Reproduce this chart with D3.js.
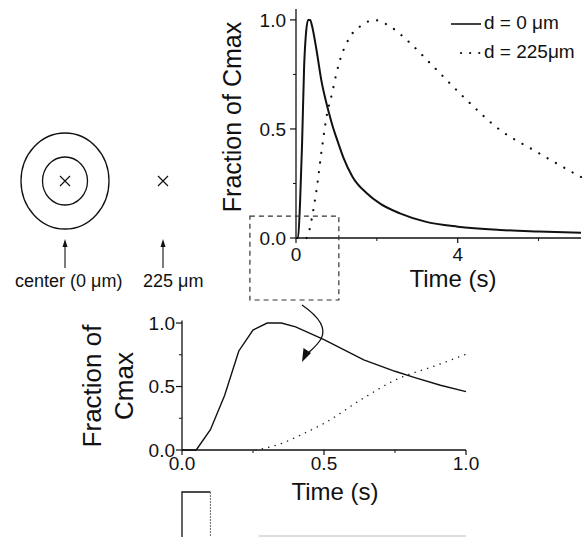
<!DOCTYPE html>
<html><head><meta charset="utf-8">
<script src="https://cdn.jsdelivr.net/npm/d3@7"></script>
<style>body{margin:0;background:#fff}svg{display:block}text{font-family:"Liberation Sans",Arial,Helvetica,sans-serif;fill:#111}</style>
</head><body>
<script>
// ---- data ----
const seriesNames = ["d = 0 \u03bcm", "d = 225\u03bcm"];
const tD0 = [0,0.05,0.1,0.15,0.2,0.25,0.3,0.35,0.4,0.5,0.64,0.75,0.82,0.91,1.0,1.17,1.4,1.75,2.1,2.57,3.2,4,5.05,6,7.05];
const vD0 = [0,0,0.16,0.43,0.78,0.945,1.0,1.0,0.97,0.87,0.71,0.62,0.57,0.51,0.46,0.37,0.28,0.205,0.155,0.113,0.075,0.052,0.037,0.03,0.024];
const tD225 = [0.26,0.345,0.42,0.5,0.64,0.75,0.9,1.0,1.09,1.34,1.67,1.91,2.33,2.74,3.4,4.22,5.05,5.87,6.95,7.05];
const vD225 = [0,0.047,0.12,0.21,0.41,0.55,0.67,0.755,0.817,0.923,0.98,1.0,0.97,0.908,0.786,0.633,0.495,0.404,0.29,0.28];
const mainXTicks = [0,4], mainXMinor = [2,6];
const mainYTicks = [0,0.5,1.0], mainYMinor = [0.25,0.75];
const lowXTicks = [0,0.5,1.0], lowXMinor = [0.25,0.75];
const lowYTicks = [0,0.5,1.0], lowYMinor = [0.25,0.75];
const siteLabels = ["center (0 \u03bcm)", "225 \u03bcm"];

const d0 = tD0.map((t,i)=>({t, v:vD0[i]}));
const d225 = tD225.map((t,i)=>({t, v:vD225[i]}));

const W=583,H=537;
const svg = d3.select("body").append("svg").attr("width",W).attr("height",H);

// ---- main chart ----
const mx = d3.scaleLinear().domain([0,7.05]).range([296,581]);
const my = d3.scaleLinear().domain([0,1.05]).range([238,9]);
const main = svg.append("g");

function axes(g, x, y, xt, xm, yt, ym, xfmt, yfmt, fs, xLabY, yLabGap){
  const [x0,x1]=x.range(), [y0,y1]=y.range();
  g.append("line").attr("x1",x0).attr("x2",x1).attr("y1",y0).attr("y2",y0).attr("stroke","#111").attr("stroke-width",1.3);
  g.append("line").attr("x1",x0).attr("x2",x0).attr("y1",y0).attr("y2",y1).attr("stroke","#111").attr("stroke-width",1.3);
  xt.forEach(v=>{
    g.append("line").attr("x1",x(v)).attr("x2",x(v)).attr("y1",y0).attr("y2",y0+5).attr("stroke","#111").attr("stroke-width",1.2);
    g.append("text").attr("x",x(v)).attr("y",xLabY).attr("text-anchor","middle").attr("font-size",fs).text(xfmt(v));
  });
  xm.forEach(v=>g.append("line").attr("x1",x(v)).attr("x2",x(v)).attr("y1",y0).attr("y2",y0+3).attr("stroke","#111").attr("stroke-width",1));
  yt.forEach(v=>{
    g.append("line").attr("x1",x0-6).attr("x2",x0).attr("y1",y(v)).attr("y2",y(v)).attr("stroke","#111").attr("stroke-width",1.2);
    g.append("text").attr("x",x0-yLabGap).attr("y",y(v)).attr("dy","0.36em").attr("text-anchor","end").attr("font-size",fs).text(yfmt(v));
  });
  ym.forEach(v=>g.append("line").attr("x1",x0-3).attr("x2",x0).attr("y1",y(v)).attr("y2",y(v)).attr("stroke","#111").attr("stroke-width",1));
}
axes(main, mx, my, mainXTicks, mainXMinor, mainYTicks, mainYMinor, d3.format("d"), d3.format(".1f"), 19, 261, 10);

const mline = d3.line().x(d=>mx(d.t)).y(d=>my(d.v)).curve(d3.curveMonotoneX);
main.append("path").attr("d",mline(d0)).attr("fill","none").attr("stroke","#111").attr("stroke-width",2);
main.append("path").attr("d",mline(d225)).attr("fill","none").attr("stroke","#111").attr("stroke-width",2.2)
  .attr("stroke-dasharray","0.1,9.5").attr("stroke-linecap","round");

main.append("text").attr("transform","translate(241,117) rotate(-90)").attr("text-anchor","middle").attr("font-size",25).text("Fraction of Cmax");
main.append("text").attr("x",453).attr("y",287).attr("text-anchor","middle").attr("font-size",24).text("Time (s)");

// legend
const lg = svg.append("g");
lg.append("line").attr("x1",451).attr("x2",481).attr("y1",24).attr("y2",24).attr("stroke","#111").attr("stroke-width",1.6);
lg.append("text").attr("x",484).attr("y",29).attr("font-size",19).text(seriesNames[0]);
lg.append("line").attr("x1",461).attr("x2",479.5).attr("y1",53).attr("y2",53).attr("stroke","#111").attr("stroke-width",2.2)
  .attr("stroke-dasharray","0.1,9").attr("stroke-linecap","round");
lg.append("text").attr("x",484).attr("y",58).attr("font-size",19).text(seriesNames[1]);

// dashed zoom box
svg.append("rect").attr("x",mx(-1.14)).attr("y",my(0.1)).attr("width",mx(1.06)-mx(-1.14)).attr("height",300-my(0.1))
  .attr("fill","none").attr("stroke","#333").attr("stroke-width",1.2).attr("stroke-dasharray","5,4");

// curved arrow
svg.append("path").attr("d","M302,305 C318,316 327,328 321,339 C316,347 310,351 306,355")
  .attr("fill","none").attr("stroke","#111").attr("stroke-width",1.3);
svg.append("path").attr("d","M302,362 L303.5,348 L311,353 Z").attr("fill","#111");

// ---- lower chart ----
const lx = d3.scaleLinear().domain([0,1]).range([182,466]);
const ly = d3.scaleLinear().domain([0,1.02]).range([450,320.5]);
const low = svg.append("g");
axes(low, lx, ly, lowXTicks, lowXMinor, lowYTicks, lowYMinor, d3.format(".1f"), d3.format(".1f"), 19, 470, 7);
const lline = d3.line().x(d=>lx(d.t)).y(d=>ly(d.v));
low.append("path").attr("d",lline(d0.filter(d=>d.t<=1))).attr("fill","none").attr("stroke","#111").attr("stroke-width",1.4);
low.append("path").attr("d",d3.line().x(d=>lx(d.t)).y(d=>ly(d.v)).curve(d3.curveMonotoneX)(d225.filter(d=>d.t<=1)))
  .attr("fill","none").attr("stroke","#222").attr("stroke-width",1.5).attr("stroke-dasharray","0.1,6.5").attr("stroke-linecap","round");
low.append("text").attr("transform","translate(101,386) rotate(-90)").attr("text-anchor","middle").attr("font-size",26).text("Fraction of");
low.append("text").attr("transform","translate(133,386) rotate(-90)").attr("text-anchor","middle").attr("font-size",26).text("Cmax");
low.append("text").attr("x",335).attr("y",500).attr("text-anchor","middle").attr("font-size",24).text("Time (s)");

// stimulus pulse
low.append("path").attr("d",`M${lx(0)},540 L${lx(0)},492 L${lx(0.1)},492`).attr("fill","none").attr("stroke","#111").attr("stroke-width",1.3);
low.append("line").attr("x1",lx(0.1)).attr("x2",lx(0.1)).attr("y1",492).attr("y2",540).attr("stroke","#666").attr("stroke-width",1).attr("stroke-dasharray","2,1");
low.append("line").attr("x1",lx(0.27)).attr("x2",lx(1)).attr("y1",536).attr("y2",536).attr("stroke","#bbb").attr("stroke-width",1);

// ---- left diagram ----
const dg = svg.append("g");
const cx = 65, cy = 181;
dg.append("ellipse").attr("cx",cx).attr("cy",cy).attr("rx",44).attr("ry",48).attr("fill","none").attr("stroke","#111").attr("stroke-width",1.3);
dg.append("ellipse").attr("cx",cx).attr("cy",cy).attr("rx",22.5).attr("ry",24).attr("fill","none").attr("stroke","#111").attr("stroke-width",1.3);
[[cx,cy],[163,cy]].forEach(([x,y])=>{
  dg.append("path").attr("d",`M${x-5},${y-5}L${x+5},${y+5}M${x+5},${y-5}L${x-5},${y+5}`).attr("stroke","#111").attr("stroke-width",1.2);
});
[[cx,siteLabels[0],15],[163,siteLabels[1],143]].forEach(([x,lab,tx])=>{
  dg.append("line").attr("x1",x).attr("x2",x).attr("y1",268).attr("y2",245).attr("stroke","#111").attr("stroke-width",1.1);
  dg.append("path").attr("d",`M${x},239 L${x-2.5},247 L${x+2.5},247 Z`).attr("fill","#111");
  dg.append("text").attr("x",tx).attr("y",287).attr("font-size",18).text(lab);
});
</script>
</body></html>
